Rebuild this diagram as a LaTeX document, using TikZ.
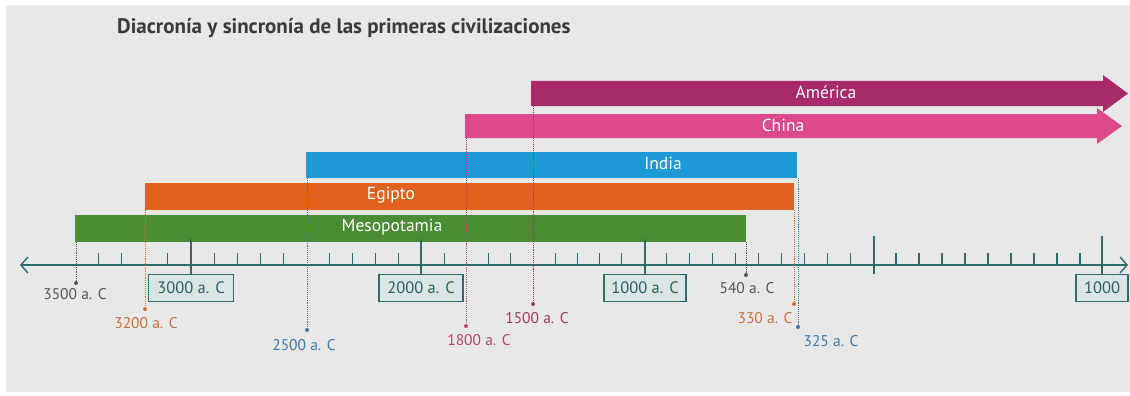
\documentclass[tikz,border=0pt]{standalone}
\usepackage{fontspec}
\setmainfont{PT Sans}
\usetikzlibrary{arrows.meta}
\definecolor{bgc}{HTML}{E8E8E9}
\definecolor{amec}{HTML}{A82A68}
\definecolor{chic}{HTML}{DC4A8C}
\definecolor{indc}{HTML}{1D9AD6}
\definecolor{egic}{HTML}{E0621E}
\definecolor{mesc}{HTML}{4A8C34}
\definecolor{axc}{HTML}{2D6A6B}
\definecolor{boxf}{HTML}{DCE5E6}
\definecolor{boxt}{HTML}{2A5E60}
\definecolor{titc}{HTML}{3A3A3A}
\definecolor{grayl}{HTML}{555555}
\definecolor{orl}{HTML}{C8703C}
\definecolor{bll}{HTML}{3A78A8}
\definecolor{pkl}{HTML}{B84468}
\definecolor{mgl}{HTML}{9C3A5A}
\tikzset{
  barlabel/.style={text=white, font=\fontsize{17.5}{17.5}\selectfont, inner sep=0pt},
  lab/.style={font=\fontsize{15.5}{15.5}\selectfont, inner sep=0pt},
  yearbox/.style={draw=axc, line width=1.1pt, fill=boxf, text=boxt, font=\fontsize{16.5}{16.5}\selectfont, minimum height=27pt, inner sep=0pt},
  dotmark/.style={circle, fill, inner sep=0pt, minimum size=4pt},
  dotline/.style={densely dotted, line width=0.9pt},
  axisline/.style={draw=axc, line width=1.4pt},
  minortick/.style={draw=axc, line width=1.1pt},
}
\begin{document}
\begin{tikzpicture}[x=1pt,y=-1pt]
\useasboundingbox (0,0) rectangle (1130,396);
\fill[white] (0,0) rectangle (1130,396);
\fill[bgc] (6,5) rectangle (1130,392);

% title
\node[anchor=west, text=titc, font=\bfseries\fontsize{21}{21}\selectfont, inner sep=0pt] (title) at (117,28) {Diacronía y sincronía de las primeras civilizaciones};

% bars
\fill[amec] (531,81) -- (1103,81) -- (1103,75) -- (1128,93.5) -- (1103,112) -- (1103,106) -- (531,106) -- cycle;
\fill[chic] (465,114) -- (1097,114) -- (1097,108) -- (1122,126) -- (1097,144) -- (1097,138) -- (465,138) -- cycle;
\fill[indc] (306,152) rectangle (797,178);
\fill[egic] (145,183) rectangle (794,210);
\fill[mesc] (75,215) rectangle (746,242);
\node[barlabel] (lame) at (826,92.5) {América};
\node[barlabel] (lchi) at (783,125) {China};
\node[barlabel] (lind) at (663,163) {India};
\node[barlabel] (legi) at (391,195) {Egipto};
\node[barlabel] (lmes) at (392,227) {Mesopotamia};

% axis
\coordinate (axl) at (20,265);
\coordinate (axr) at (1128,265);
\draw[axisline, {Straight Barb[length=7pt,width=16pt]}-{Straight Barb[length=7pt,width=16pt]}] (axl) -- (axr);
\foreach \x in {98.6,121.7,167.9,214.1,237.2,260.3,283.4,329.6,352.7,375.8,398.9,444.2,488.6,510.8,555.2,577.4,599.6,621.8,666.9,689.8,712.7,735.6,758.5,781.4,804.3,827.2,850.1,896,919,942,965,988,1011,1034,1057,1080}
  \draw[minortick] (\x,253) -- (\x,265);

% boxes and major ticks
\node[yearbox, minimum width=85pt] (b3000) at (191,288) {3000 a. C};
\node[yearbox, minimum width=84pt] (b2000) at (421,288) {2000 a. C};
\node[yearbox, minimum width=82pt] (b1000) at (645,288) {1000 a. C};
\node[yearbox, minimum width=52pt] (b1000d) at (1102,288) {1000};
\draw[minortick] (191,239) -- (b3000.north);
\draw[minortick] (421,239) -- (b2000.north);
\draw[minortick] (645,239) -- (b1000.north);
\draw[minortick] (1102,236) -- (b1000d.north);
\draw[minortick] (874,236) -- (874,274);

% dated marks
\coordinate (s3500) at (76,242);
\node[dotmark, fill=grayl] (d3500) at (76,283) {};
\draw[dotline, grayl] (s3500) -- (d3500);
\node[lab, text=grayl] (t3500) at (75,294) {3500 a. C};

\coordinate (s3200) at (145,210);
\node[dotmark, fill=orl] (d3200) at (145,309) {};
\draw[dotline, orl] (s3200) -- (d3200);
\node[lab, text=orl] (t3200) at (146,323) {3200 a. C};

\coordinate (s2500) at (307,178);
\node[dotmark, fill=bll] (d2500) at (307,330) {};
\draw[dotline, bll] (s2500) -- (d2500);
\node[lab, text=bll] (t2500) at (304,345) {2500 a. C};

\coordinate (s1800) at (466,138);
\node[dotmark, fill=pkl] (d1800) at (466,326) {};
\draw[dotline, pkl] (s1800) -- (d1800);
\node[lab, text=pkl] (t1800) at (479,340) {1800 a. C};

\coordinate (s1500) at (533,106);
\node[dotmark, fill=mgl] (d1500) at (533,304) {};
\draw[dotline, mgl] (s1500) -- (d1500);
\node[lab, text=mgl] (t1500) at (537,318) {1500 a. C};

\coordinate (s540) at (746,242);
\node[dotmark, fill=grayl] (d540) at (746,275) {};
\draw[dotline, grayl] (s540) -- (d540);
\node[lab, text=grayl] (t540) at (747,288) {540 a. C};

\coordinate (s330) at (794,210);
\node[dotmark, fill=orl] (d330) at (794,304) {};
\draw[dotline, orl] (s330) -- (d330);
\node[lab, text=orl] (t330) at (765,318) {330 a. C};

\coordinate (s325) at (798,178);
\node[dotmark, fill=bll] (d325) at (798,327) {};
\draw[dotline, bll] (s325) -- (d325);
\node[lab, text=bll] (t325) at (831,341) {325 a. C};
\end{tikzpicture}
\end{document}
